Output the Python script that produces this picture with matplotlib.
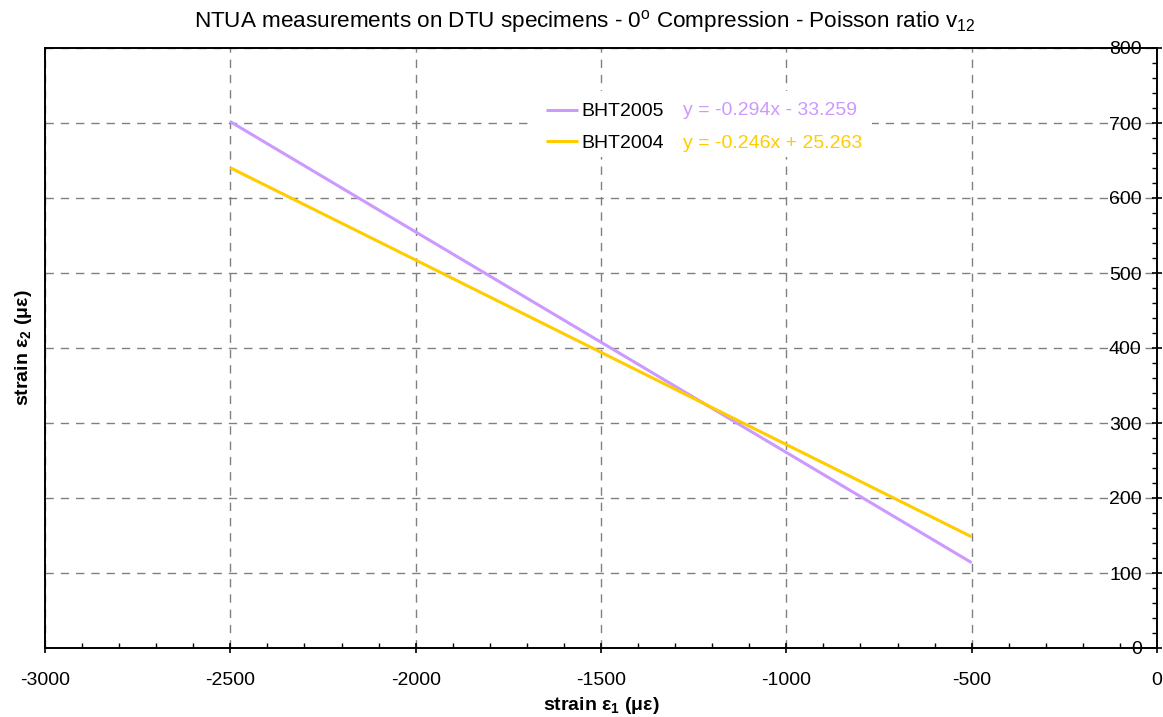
import matplotlib
matplotlib.use("Agg")
import matplotlib.pyplot as plt
from matplotlib.patches import Rectangle
from matplotlib.ticker import MultipleLocator
import numpy as np

# Linear fits of transverse vs. axial strain for each specimen
specimens = ["BHT2005", "BHT2004"]
slopes = [-0.294, -0.246]
intercepts = [-33.259, 25.263]
fit_range = [-2500, -500]          # axial strain range covered by the fits
colors = ["#CC99FF", "#FFCC00"]
equations = ["y = -0.294x - 33.259", "y = -0.246x + 25.263"]

x_limits = (-3000, 0)
y_limits = (0, 800)

plt.rcParams["font.family"] = ["Liberation Sans", "DejaVu Sans"]
plt.rcParams["axes.unicode_minus"] = False
plt.rcParams["mathtext.fontset"] = "custom"
plt.rcParams["mathtext.rm"] = "Liberation Sans"
plt.rcParams["mathtext.it"] = "Liberation Sans:italic"
plt.rcParams["mathtext.bf"] = "Liberation Sans:bold"

W, H = 1163, 717
fig = plt.figure(figsize=(W / 100, H / 100), dpi=100)
ax = fig.add_axes([45 / W, 69 / H, 1112 / W, 600 / H])

for name, m, b, c in zip(specimens, slopes, intercepts, colors):
    xs = np.array(fit_range, dtype=float)
    ax.plot(xs, m * xs + b, color=c, lw=2.2, label=name, zorder=3,
            solid_capstyle="butt")

ax.set_xlim(*x_limits)
ax.set_ylim(*y_limits)

ax.xaxis.set_major_locator(MultipleLocator(500))
ax.xaxis.set_minor_locator(MultipleLocator(100))
ax.yaxis.set_major_locator(MultipleLocator(100))
ax.yaxis.set_minor_locator(MultipleLocator(20))

ax.grid(True, which="major", color="#808080", lw=1.0, linestyle=(0, (6, 5)))
ax.set_axisbelow(True)

for sp in ax.spines.values():
    sp.set_linewidth(1.4)
    sp.set_color("black")

# x axis: ticks along the bottom
ax.tick_params(axis="x", which="major", direction="inout", length=7, width=1.2,
               labelsize=14, pad=13.5, top=False, bottom=True)
ax.tick_params(axis="x", which="minor", direction="in", length=3.5, width=1.0,
               top=False, bottom=True)

# y axis drawn at x = 0 (right side), labels sit inside the plot area
ax.tick_params(axis="y", which="major", direction="inout", length=7, width=1.2,
               labelsize=14, left=False, right=True, labelleft=False,
               labelright=True, pad=-14.5)
ax.tick_params(axis="y", which="minor", direction="in", length=3.5, width=1.0,
               left=False, right=True)
for t in ax.yaxis.get_major_ticks():
    t.label2.set_horizontalalignment("right")

ax.set_xlabel(r"strain ε$_\mathbf{1}$ (με)", fontsize=14, fontweight="bold",
              labelpad=4.5)
ax.yaxis.set_label_position("left")
ax.set_ylabel(r"strain ε$_\mathbf{2}$ (με)", fontsize=14, fontweight="bold",
              labelpad=4.5)

fig.text(585 / W, 1 - 22 / H,
         r"NTUA measurements on DTU specimens - 0$^\mathrm{o}$ Compression - Poisson ratio v$_\mathrm{12}$",
         ha="center", va="center", fontsize=16.2)

# white panel behind the legend and fit equations
ax.add_patch(Rectangle((530 / W, 1 - 157 / H), 342 / W, 66 / H,
                       transform=fig.transFigure, facecolor="white",
                       edgecolor="none", zorder=1))

leg = ax.legend(loc="upper left", bbox_to_anchor=(538 / W, 1 - 95 / H),
                bbox_transform=fig.transFigure, fontsize=14, frameon=False,
                handlelength=1.65, handletextpad=0.2,
                labelspacing=0.72, borderpad=0.4, borderaxespad=0)

for i, (eq, c) in enumerate(zip(equations, colors)):
    ax.text(683 / W, 1 - (110.5 + 33 * i) / H, eq, color=c, fontsize=14,
            ha="left", va="center", transform=fig.transFigure, zorder=5)

fig.savefig("out.png", dpi=100)
